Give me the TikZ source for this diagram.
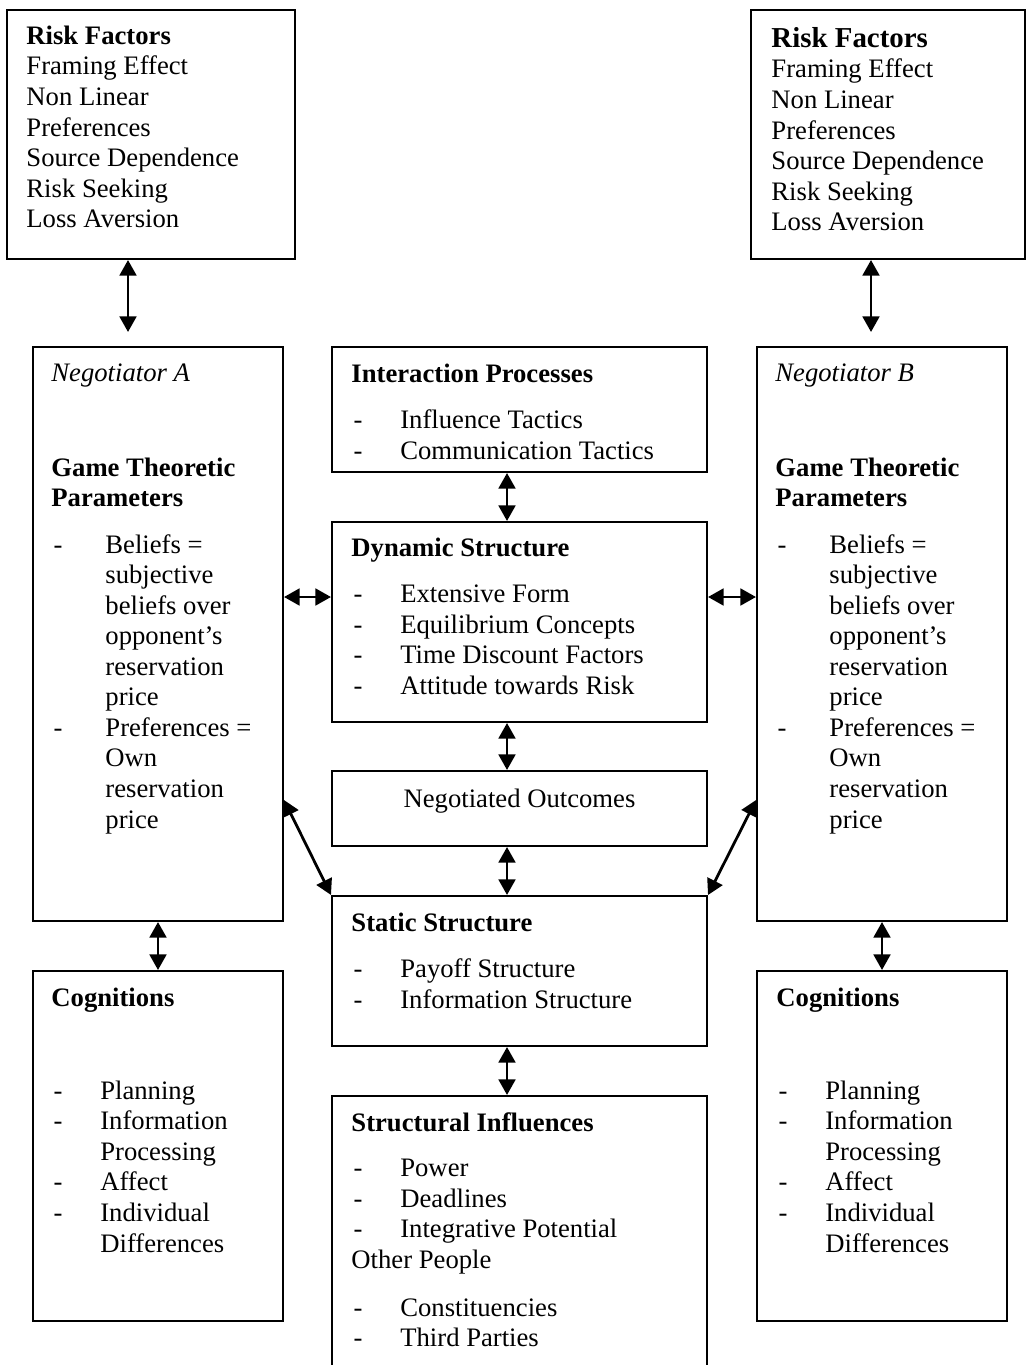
\documentclass[tikz,border=0pt]{standalone}
\usepackage{fontspec}
\setmainfont{Liberation Serif}
\usetikzlibrary{arrows.meta,fit}
\newlength{\negind}
\setlength{\negind}{24.3pt}
\newcommand{\itm}[2][22pt]{\makebox[#1][l]{\hspace{1pt}-}#2}
\newcommand{\cnt}[2][22pt]{\hspace*{#1}#2}
\begin{document}
\begin{tikzpicture}[x=0.45pt, y=-0.45pt,
		box/.style={draw, line width=0.9pt, inner sep=0pt},
		txt/.style={anchor=north west, inner sep=0pt, font={\fontsize{12}{13.75}\selectfont}},
		link/.style={<->, >={Triangle[length=7pt,width=7.5pt]}, line width=1.25pt}]

		\path[use as bounding box, clip] (0,0) rectangle (1026,1365);

		% boxes
		\node[box, fit={(7,10) (295,259)}] (riskA) {};
		\node[box, fit={(751,10) (1025,259)}] (riskB) {};
		\node[box, fit={(33,347) (283,921)}] (negA) {};
		\node[box, fit={(757,347) (1007,921)}] (negB) {};
		\node[box, fit={(332,347) (707,472)}] (inter) {};
		\node[box, fit={(332,522) (707,722)}] (dyn) {};
		\node[box, fit={(332,771) (707,846)}] (outc) {};
		\node[box, fit={(332,896) (707,1046)}] (stat) {};
		\node[box, fit={(332,1096) (707,1400)}] (struc) {};
		\node[box, fit={(33,971) (283,1321)}] (cogA) {};
		\node[box, fit={(757,971) (1007,1321)}] (cogB) {};

		% Risk factors
		\node[txt] (riskAtxt) at ([shift={(20,13.6)}]riskA.north west) {%
			\begin{tabular}{@{}l@{}}
				\textbf{Risk Factors}\\
				Framing Effect\\
				Non Linear\\
				Preferences\\
				Source Dependence\\
				Risk Seeking\\
				Loss Aversion
			\end{tabular}};
		\node[txt] (riskBtxt) at ([shift={(21,16.6)}]riskB.north west) {%
			\begin{tabular}{@{}l@{}}
				{\fontsize{13}{13.75}\selectfont\textbf{Risk Factors}}\\
				Framing Effect\\
				Non Linear\\
				Preferences\\
				Source Dependence\\
				Risk Seeking\\
				Loss Aversion
			\end{tabular}};

		% Negotiators
		\node[txt] (negAtxt) at ([shift={(19,13.6)}]negA.north west) {%
			\begin{tabular}{@{}l@{}}
				\textit{Negotiator A}\\[29pt]
				\textbf{Game Theoretic}\\
				\textbf{Parameters}\\[7pt]
				\itm[\negind]{Beliefs =}\\
				\cnt[\negind]{subjective}\\
				\cnt[\negind]{beliefs over}\\
				\cnt[\negind]{opponent’s}\\
				\cnt[\negind]{reservation}\\
				\cnt[\negind]{price}\\
				\itm[\negind]{Preferences =}\\
				\cnt[\negind]{Own}\\
				\cnt[\negind]{reservation}\\
				\cnt[\negind]{price}
			\end{tabular}};
		\node[txt] (negBtxt) at ([shift={(19,13.6)}]negB.north west) {%
			\begin{tabular}{@{}l@{}}
				\textit{Negotiator B}\\[29pt]
				\textbf{Game Theoretic}\\
				\textbf{Parameters}\\[7pt]
				\itm[\negind]{Beliefs =}\\
				\cnt[\negind]{subjective}\\
				\cnt[\negind]{beliefs over}\\
				\cnt[\negind]{opponent’s}\\
				\cnt[\negind]{reservation}\\
				\cnt[\negind]{price}\\
				\itm[\negind]{Preferences =}\\
				\cnt[\negind]{Own}\\
				\cnt[\negind]{reservation}\\
				\cnt[\negind]{price}
			\end{tabular}};

		% middle column
		\node[txt] (intertxt) at ([shift={(20,14.6)}]inter.north west) {%
			\begin{tabular}{@{}l@{}}
				\textbf{Interaction Processes}\\[7pt]
				\itm{Influence Tactics}\\
				\itm{Communication Tactics}
			\end{tabular}};
		\node[txt] (dyntxt) at ([shift={(20,13.6)}]dyn.north west) {%
			\begin{tabular}{@{}l@{}}
				\textbf{Dynamic Structure}\\[7pt]
				\itm{Extensive Form}\\
				\itm{Equilibrium Concepts}\\
				\itm{Time Discount Factors}\\
				\itm{Attitude towards Risk}
			\end{tabular}};
		\node[anchor=base, inner sep=0pt, font={\fontsize{12}{13.75}\selectfont}] (outctxt) at (519.5,807) {Negotiated Outcomes};
		\node[txt] (stattxt) at ([shift={(20,14.6)}]stat.north west) {%
			\begin{tabular}{@{}l@{}}
				\textbf{Static Structure}\\[7pt]
				\itm{Payoff Structure}\\
				\itm{Information Structure}
			\end{tabular}};
		\node[txt] (structxt) at ([shift={(20,14.6)}]struc.north west) {%
			\begin{tabular}{@{}l@{}}
				\textbf{Structural Influences}\\[6.5pt]
				\itm{Power}\\
				\itm{Deadlines}\\
				\itm{Integrative Potential}\\
				Other People\\[7.8pt]
				\itm{Constituencies}\\
				\itm{Third Parties}
			\end{tabular}};

		% Cognitions
		\node[txt] (cogAtxt) at ([shift={(19,14.6)}]cogA.north west) {%
			\begin{tabular}{@{}l@{}}
				\textbf{Cognitions}\\[28pt]
				\itm{Planning}\\
				\itm{Information}\\
				\cnt{Processing}\\
				\itm{Affect}\\
				\itm{Individual}\\
				\cnt{Differences}
			\end{tabular}};
		\node[txt] (cogBtxt) at ([shift={(20,14.6)}]cogB.north west) {%
			\begin{tabular}{@{}l@{}}
				\textbf{Cognitions}\\[28pt]
				\itm{Planning}\\
				\itm{Information}\\
				\cnt{Processing}\\
				\itm{Affect}\\
				\itm{Individual}\\
				\cnt{Differences}
			\end{tabular}};

		% arrows
		\coordinate (midx) at (507,0);
		\coordinate (rowy) at (0,597);
		\coordinate (diagy) at (0,800);
		\coordinate (aEnd) at (128,332);
		\coordinate (bEnd) at (871,332);

		\draw[link] (riskA.south -| aEnd) -- (aEnd);
		\draw[link] (riskB.south -| bEnd) -- (bEnd);
		\draw[link] (inter.south -| midx) -- (dyn.north -| midx);
		\draw[link] (dyn.south -| midx) -- (outc.north -| midx);
		\draw[link] (outc.south -| midx) -- (stat.north -| midx);
		\draw[link] (stat.south -| midx) -- (struc.north -| midx);
		\draw[link] (negA.east |- rowy) -- (dyn.west |- rowy);
		\draw[link] (dyn.east |- rowy) -- (negB.west |- rowy);
		\draw[link] (negA.east |- diagy) -- (stat.north west);
		\draw[link] (negB.west |- diagy) -- (stat.north east);
		\draw[link] (negA.south) -- (cogA.north);
		\draw[link] (negB.south) -- (cogB.north);

	\end{tikzpicture}
\end{document}
